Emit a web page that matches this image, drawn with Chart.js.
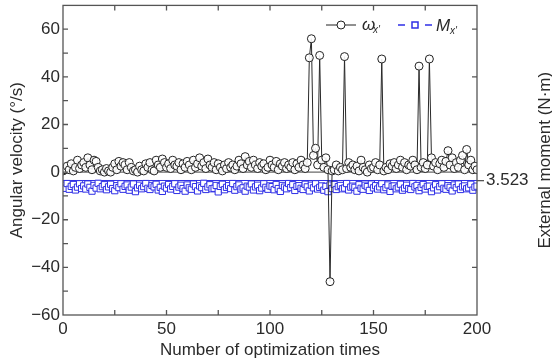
<!DOCTYPE html>
<html>
<head>
<meta charset="utf-8">
<script src="https://cdn.jsdelivr.net/npm/chart.js@4"></script>
<style>
  html, body { margin: 0; padding: 0; background: #fff; }
  #wrap { width: 552px; height: 362px; }
</style>
</head>
<body>
<div id="wrap"><canvas id="chart" width="552" height="362"></canvas></div>
<script>
// angular velocity w_x' for each optimization step (0..200)
const omegaValues = [
  0.5, 1, 2.5, 1, 3.5, 0.5, 2, 5, 1.5, 3,
  4, 2, 6, 3, 1, 5, 4.5, 2, 0.5, 1,
  0, 1.5, 0.5, 0, 2, 3.5, 1, 4.5, 2.5, 4,
  3, 1, 4, 2, 0.5, 1, 0, 2.5, 1, 0.5,
  3.5, 2, 4, 1, 0.5, 5, 3, 2, 5.5, 4,
  2, 3.5, 1.5, 5, 3, 2.5, 4, 1, 3.5, 2,
  4.5, 3, 1, 5, 2, 3.5, 6, 2.5, 4, 1.5,
  5.5, 3, 2, 4, 1, 3.5, 2, 0.5, 3, 1.5,
  4, 2, 3, 1, 2.5, 5, 3.5, 1.5, 6.5, 3,
  4.5, 2, 5, 3, 1.5, 4, 2.5, 3.5, 1, 2,
  5, 3, 2, 4.5, 1, 3.5, 2.5, 4, 1.5, 3,
  2, 4, 1, 3.5, 2, 5, 3, 1.5, 4, 48,
  56, 7, 10, 3, 49, 5, 2, 6, 1, -46,
  0.5, 1, 3, 0.5, 2, 1, 48.5, 1.5, 4, 2,
  3, 1, 2.5, 0.5, 5, 2, 1, 0, 3, 1.5,
  2, 4, 1, 3, 47.5, 0.5, 2, 1, 3.5, 2.5,
  4, 1.5, 3, 5, 2, 4, 1, 3, 2.5, 5,
  3, 1, 44.5, 2, 4, 1.5, 3, 47.5, 6, 2.5,
  4, 1, 3.5, 5, 2, 4.5, 9, 3, 6, 1.5,
  4, 2, 5, 7, 1, 9.5, 3, 5, 1, 2.5,
  1
];

// external moment M_x'
const momentValues = [
  -5.5, -6.8, -4.8, -7.2, -6, -5.2, -7.5, -6.3, -4.9, -6.9,
  -5.8, -7.1, -5, -6.4, -8, -5.6, -6.7, -4.7, -7, -6.1,
  -5.3, -7.4, -6.2, -5.1, -6.9, -7.8, -5.7, -6.5, -4.9, -7.2,
  -6, -5.4, -7.6, -6.3, -5, -8.2, -6.6, -5.5, -7, -6.1,
  -4.8, -6.8, -7.3, -5.6, -6.2, -5.1, -7.5, -6.4, -8.1, -5.9,
  -6.7, -5.2, -7.1, -6, -4.9, -7.7, -6.3, -5.5, -6.9, -8,
  -5.4, -6.6, -7.2, -5, -6.1, -7.9, -5.8, -6.5, -4.7, -7.3,
  -6.2, -5.3, -7, -6.8, -5.6, -8.3, -6, -5.1, -7.4, -6.4,
  -5.7, -6.9, -4.8, -7.6, -6.1, -5.4, -7.1, -6.6, -8, -5.9,
  -6.3, -5, -7.5, -6.2, -5.5, -7.8, -6.7, -4.9, -6.4, -7.2,
  -5.8, -6.1, -7.4, -5.2, -6.9, -8.1, -5.6, -6.3, -7, -4.8,
  -6.5, -5.3, -7.7, -6, -5.7, -6.8, -7.3, -5.1, -6.2, -7.9,
  -5.5, -6.6, -4.9, -7.1, -6.4, -5.8, -7.6, -6, -8.2, -5.4,
  -6.9, -5.2, -7.3, -6.1, -5.6, -7, -6.7, -4.8, -7.5, -6.3,
  -5.9, -6.4, -8, -5.3, -6.8, -7.2, -5.5, -6.1, -7.7, -5,
  -6.6, -5.7, -7.1, -6.2, -4.9, -7.4, -6.5, -5.4, -8.1, -6,
  -5.8, -7, -6.3, -5.1, -7.6, -6.7, -5.5, -6.9, -7.3, -4.8,
  -6.2, -5.6, -7.8, -6.4, -5.2, -7.1, -6, -5.9, -8.2, -6.6,
  -5.3, -7.5, -6.1, -4.9, -6.8, -7.2, -5.7, -6.4, -7.9, -5.4,
  -6.5, -5, -7.3, -6.2, -5.8, -7, -6.6, -5.1, -7.6, -6.3,
  -5.9
];

const meanMoment = -3.523;
const xRange = [0, 200];
const yRange = [-60, 70];
const xTickValues = [0, 50, 100, 150, 200];
const xMinorTicks = [25, 50, 75, 100, 125, 150, 175];
const yTickValues = [-60, -40, -20, 0, 20, 40, 60];
const yMinorTicks = [-50, -40, -30, -20, -10, 0, 10, 20, 30, 40, 50, 60];
const yRightTicks = [-40, -20, 20, 40, 60];

const TEXT = '#2b2b2b';
const AXIS = '#555';
const BLUE = '#2f2fe6';
const FONT = '"Liberation Sans", Arial, sans-serif';

const omegaPoints = omegaValues.map((v, i) => ({ x: i, y: v }));
const momentPoints = momentValues.map((v, i) => ({ x: i, y: v }));

const minus = v => String(v).replace('-', '\u2212');
const noPad = s => { s.paddingTop = 0; s.paddingBottom = 0; };

// frame, inward ticks, legend and right title
const decor = {
  id: 'decor',
  afterDraw(chart) {
    const { ctx, chartArea: a, scales } = chart;
    const x = scales.x, y = scales.y;
    ctx.save();
    ctx.strokeStyle = AXIS;
    ctx.lineWidth = 1.3;
    ctx.strokeRect(a.left, a.top, a.right - a.left, a.bottom - a.top);
    ctx.beginPath();
    const tl = 5;
    xMinorTicks.forEach(v => {
      const px = x.getPixelForValue(v);
      ctx.moveTo(px, a.bottom); ctx.lineTo(px, a.bottom - tl);
      ctx.moveTo(px, a.top); ctx.lineTo(px, a.top + tl);
    });
    yMinorTicks.forEach(v => {
      const py = y.getPixelForValue(v);
      ctx.moveTo(a.left, py); ctx.lineTo(a.left + tl, py);
    });
    yRightTicks.forEach(v => {
      const py = y.getPixelForValue(v);
      ctx.moveTo(a.right, py); ctx.lineTo(a.right - tl, py);
    });
    ctx.stroke();

    // legend
    const ly = 25;
    ctx.lineWidth = 1;
    ctx.strokeStyle = '#222';
    ctx.beginPath(); ctx.moveTo(326, ly); ctx.lineTo(356, ly); ctx.stroke();
    ctx.fillStyle = '#fff';
    ctx.beginPath(); ctx.arc(341, ly, 4, 0, Math.PI * 2); ctx.fill(); ctx.stroke();
    ctx.fillStyle = TEXT;
    ctx.textBaseline = 'alphabetic';
    ctx.font = 'italic 17px ' + FONT;
    ctx.fillText('\u03c9', 362, ly + 5);
    ctx.font = 'italic 10px ' + FONT;
    ctx.fillText("x'", 373, ly + 8);

    ctx.strokeStyle = BLUE;
    ctx.lineWidth = 1.5;
    ctx.beginPath();
    ctx.moveTo(398, ly); ctx.lineTo(405, ly);
    ctx.moveTo(425, ly); ctx.lineTo(432, ly);
    ctx.stroke();
    ctx.fillStyle = '#fff';
    ctx.beginPath(); ctx.rect(412, ly - 3, 6, 6); ctx.fill(); ctx.stroke();
    ctx.fillStyle = TEXT;
    ctx.font = 'italic 17px ' + FONT;
    ctx.fillText('M', 436, ly + 6);
    ctx.font = 'italic 10px ' + FONT;
    ctx.fillText("x'", 450, ly + 9);

    // right axis title, reads bottom to top
    ctx.translate(545, (a.top + a.bottom) / 2);
    ctx.rotate(-Math.PI / 2);
    ctx.font = '17px ' + FONT;
    ctx.textAlign = 'center';
    ctx.textBaseline = 'middle';
    ctx.fillText('External moment (N\u00b7m)', 0, 0);
    ctx.restore();
  }
};

new Chart(document.getElementById('chart'), {
  type: 'line',
  data: {
    datasets: [
      {
        label: "\u03c9x'",
        data: omegaPoints,
        borderColor: '#2a2a2a',
        borderWidth: 1,
        pointRadius: 4,
        pointBorderWidth: 1,
        pointBackgroundColor: 'rgba(255,255,255,0.9)',
        pointBorderColor: '#222',
        tension: 0,
        order: 1
      },
      {
        label: 'zero',
        data: [{ x: xRange[0], y: 0 }, { x: xRange[1], y: 0 }],
        borderColor: '#444',
        borderWidth: 1,
        pointRadius: 0,
        order: 4
      },
      {
        label: 'mean',
        data: [{ x: xRange[0], y: meanMoment }, { x: xRange[1], y: meanMoment }],
        borderColor: BLUE,
        borderWidth: 1,
        pointRadius: 0,
        order: 3
      },
      {
        label: "Mx'",
        data: momentPoints,
        borderColor: BLUE,
        borderWidth: 1,
        borderDash: [4, 3],
        pointStyle: 'rect',
        pointRadius: 4.4,
        pointBorderWidth: 1,
        pointBackgroundColor: '#fff',
        pointBorderColor: BLUE,
        tension: 0,
        order: 2
      }
    ]
  },
  options: {
    responsive: false,
    animation: false,
    layout: { padding: { top: 5, right: 0, left: 0, bottom: 0 } },
    plugins: { legend: { display: false }, tooltip: { enabled: false } },
    scales: {
      x: {
        type: 'linear',
        min: xRange[0],
        max: xRange[1],
        afterBuildTicks: s => { s.ticks = xTickValues.map(v => ({ value: v })); },
        afterFit: s => { s.height = 47; s.paddingLeft = 0; s.paddingRight = 0; },
        grid: { display: false, drawTicks: false },
        border: { display: false },
        ticks: { color: TEXT, font: { family: FONT, size: 17 }, padding: 4, maxRotation: 0 },
        title: {
          display: true,
          text: 'Number of optimization times',
          color: TEXT,
          font: { family: FONT, size: 17 },
          padding: { top: 0, bottom: 1 }
        }
      },
      y: {
        position: 'left',
        min: yRange[0],
        max: yRange[1],
        afterBuildTicks: s => { s.ticks = yTickValues.map(v => ({ value: v })); },
        afterFit: s => { s.width = 63; noPad(s); },
        grid: { display: false, drawTicks: false },
        border: { display: false },
        ticks: { color: TEXT, font: { family: FONT, size: 17 }, padding: 3, callback: v => minus(v) },
        title: {
          display: true,
          text: 'Angular velocity (\u00b0/s)',
          color: TEXT,
          font: { family: FONT, size: 17 },
          padding: { top: 7, bottom: 0 }
        }
      },
      y2: {
        position: 'right',
        min: yRange[0],
        max: yRange[1],
        afterBuildTicks: s => { s.ticks = [{ value: meanMoment }]; },
        afterFit: s => { s.width = 75; noPad(s); },
        grid: { display: true, drawOnChartArea: false, drawTicks: true, tickLength: 7, color: AXIS, lineWidth: 1.3 },
        border: { display: false },
        ticks: { color: TEXT, font: { family: FONT, size: 17 }, padding: 2, callback: () => '3.523' }
      }
    }
  },
  plugins: [decor]
});
</script>
</body>
</html>
